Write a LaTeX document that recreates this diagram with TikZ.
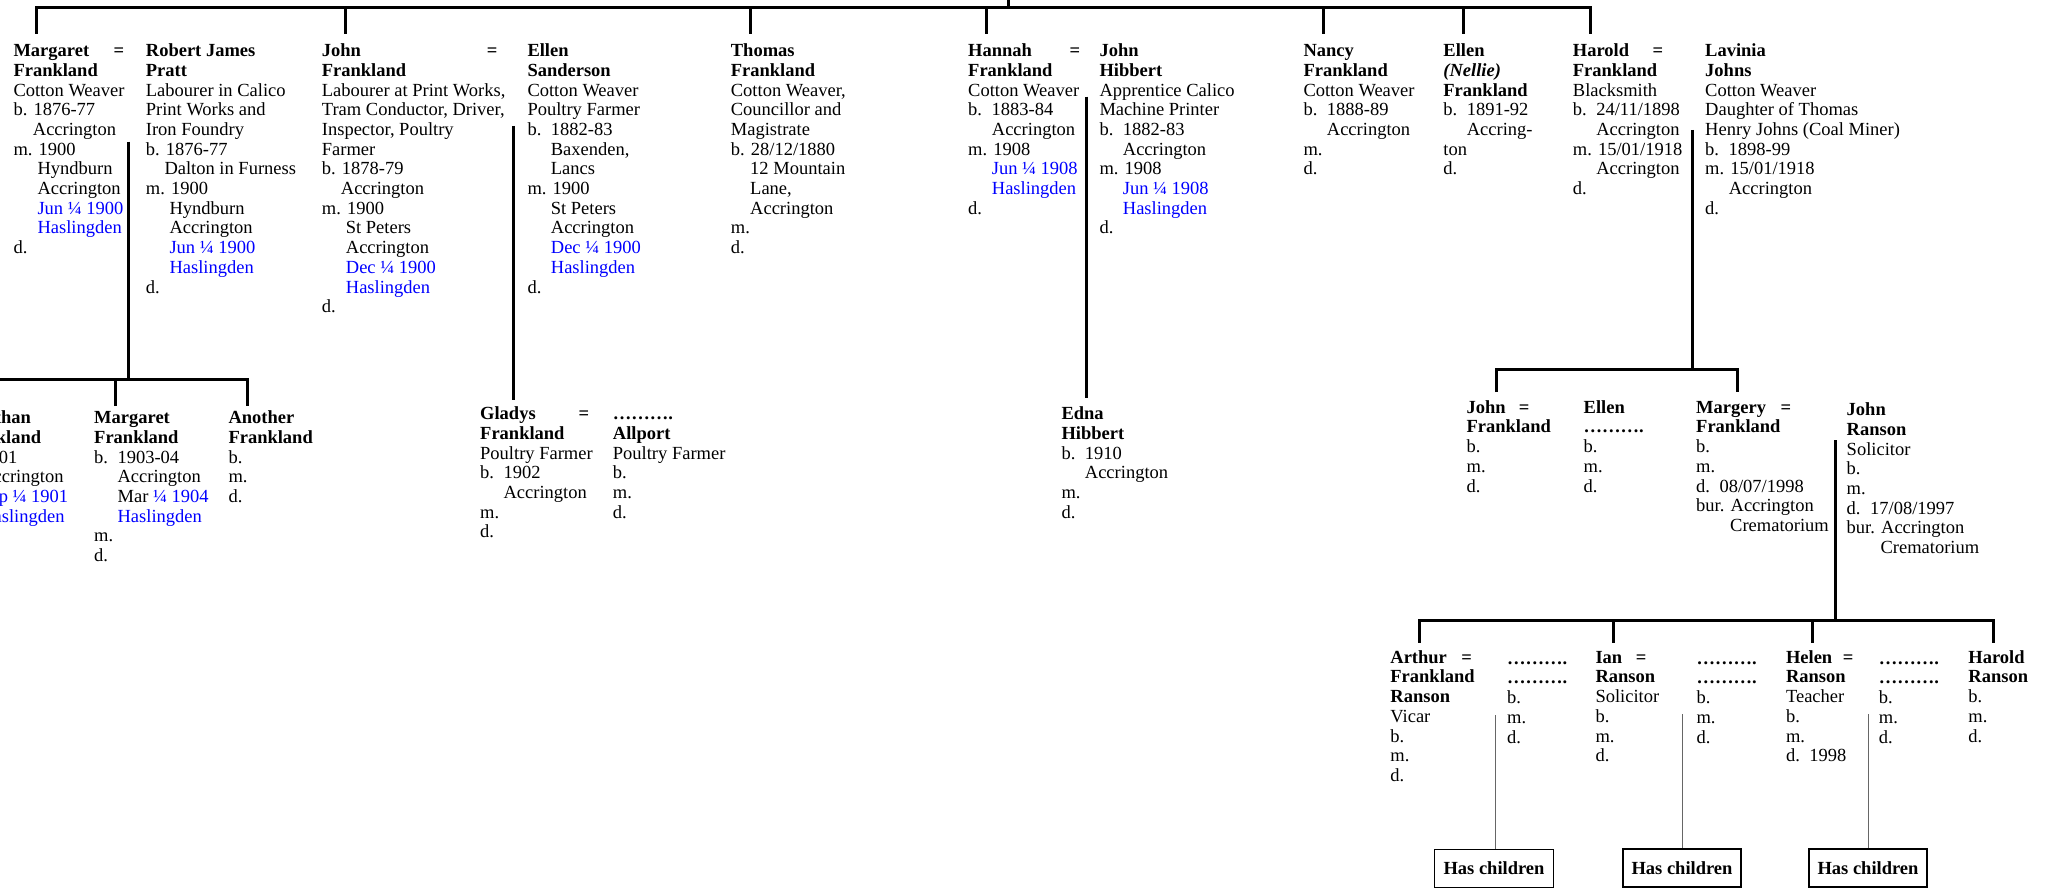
\documentclass[tikz,border=0pt]{standalone}
\usepackage{fontspec}
\setmainfont{Liberation Serif}
\definecolor{refblue}{RGB}{0,0,255}
\newcommand{\pind}[1]{\hspace*{#1pt}}
\newcommand{\pblue}[1]{\textcolor{refblue}{#1}}
\newcommand{\ptab}[1]{\makebox[23.4pt][l]{#1}}
\newcommand{\pstrut}{\rule{0pt}{13.5pt}}
\newcommand{\peq}[2]{\makebox[#1pt][l]{\textbf{#2}\hfill\textbf{=}}}
\tikzset{
  person/.style={anchor=north west, inner sep=0pt, align=left, font=\fontsize{18.5}{19.7}\selectfont},
  tree/.style={line width=3pt, black},
  thinline/.style={line width=1pt, black!60},
  kidbox/.style={draw, line width=1.5pt, minimum width=119pt, minimum height=38pt, inner sep=0pt, font=\fontsize{18.5}{19.7}\selectfont\bfseries}
}
\begin{document}
\begin{tikzpicture}[x=1pt,y=-1pt]
\useasboundingbox (0,0) rectangle (2045,890);
% ---------- generation 1 ----------
\node[person] (margaret) at (13.3,43) {\pstrut\peq{110.7}{Margaret}\\ \textbf{Frankland}\\ Cotton Weaver\\ b. 1876-77\\ \pind{19.4}Accrington\\ m. 1900\\ \pind{24}Hyndburn\\ \pind{24}Accrington\\ \pind{24}\pblue{Jun ¼ 1900}\\ \pind{24}\pblue{Haslingden}\\ d.};
\node[person] (robert) at (145.7,43) {\pstrut\textbf{Robert James}\\ \textbf{Pratt}\\ Labourer in Calico\\ Print Works and\\ Iron Foundry\\ b. 1876-77\\ \pind{18.6}Dalton in Furness\\ m. 1900\\ \pind{23.6}Hyndburn\\ \pind{23.6}Accrington\\ \pind{23.6}\pblue{Jun ¼ 1900}\\ \pind{23.6}\pblue{Haslingden}\\ d.};
\node[person] (john) at (321.7,43) {\pstrut\peq{175.6}{John}\\ \textbf{Frankland}\\ Labourer at Print Works,\\ Tram Conductor, Driver,\\ Inspector, Poultry\\ Farmer\\ b. 1878-79\\ \pind{19}Accrington\\ m. 1900\\ \pind{24}St Peters\\ \pind{24}Accrington\\ \pind{24}\pblue{Dec ¼ 1900}\\ \pind{24}\pblue{Haslingden}\\ d.};
\node[person] (ellens) at (527.3,43) {\pstrut\textbf{Ellen}\\ \textbf{Sanderson}\\ Cotton Weaver\\ Poultry Farmer\\ \ptab{b.}1882-83\\ \pind{23.4}Baxenden,\\ \pind{23.4}Lancs\\ m. 1900\\ \pind{23.4}St Peters\\ \pind{23.4}Accrington\\ \pind{23.4}\pblue{Dec ¼ 1900}\\ \pind{23.4}\pblue{Haslingden}\\ d.};
\node[person] (thomas) at (730.7,43) {\pstrut\textbf{Thomas}\\ \textbf{Frankland}\\ Cotton Weaver,\\ Councillor and\\ Magistrate\\ b. 28/12/1880\\ \pind{19.3}12 Mountain\\ \pind{19.3}Lane,\\ \pind{19.3}Accrington\\ m.\\ d.};
\node[person] (hannah) at (968,43) {\pstrut\peq{112}{Hannah}\\ \textbf{Frankland}\\ Cotton Weaver\\ \ptab{b.}1883-84\\ \pind{23.7}Accrington\\ m. 1908\\ \pind{23.7}\pblue{Jun ¼ 1908}\\ \pind{23.7}\pblue{Haslingden}\\ d.};
\node[person] (hibbert) at (1099.3,43) {\pstrut\textbf{John}\\ \textbf{Hibbert}\\ Apprentice Calico\\ Machine Printer\\ \ptab{b.}1882-83\\ \pind{23.4}Accrington\\ m. 1908\\ \pind{23.4}\pblue{Jun ¼ 1908}\\ \pind{23.4}\pblue{Haslingden}\\ d.};
\node[person] (nancy) at (1303.3,43) {\pstrut\textbf{Nancy}\\ \textbf{Frankland}\\ Cotton Weaver\\ \ptab{b.}1888-89\\ \pind{23.4}Accrington\\ m.\\ d.};
\node[person] (nellie) at (1443.2,43) {\pstrut\textbf{Ellen}\\ \textbf{\textit{(Nellie)}}\\ \textbf{Frankland}\\ \ptab{b.}1891-92\\ \pind{23.4}Accring-\\ ton\\ d.};
\node[person] (harold) at (1572.7,43) {\pstrut\peq{90.3}{Harold}\\ \textbf{Frankland}\\ Blacksmith\\ \ptab{b.}24/11/1898\\ \pind{23.4}Accrington\\ m. 15/01/1918\\ \pind{23.4}Accrington\\ d.};
\node[person] (lavinia) at (1705,43) {\pstrut\textbf{Lavinia}\\ \textbf{Johns}\\ Cotton Weaver\\ Daughter of Thomas\\ Henry Johns (Coal Miner)\\ \ptab{b.}1898-99\\ m. 15/01/1918\\ \pind{23.6}Accrington\\ d.};
% ---------- generation 2 ----------
\node[person] (jonathan) at (-43.3,410) {\pstrut\textbf{Jonathan}\\ \textbf{Frankland}\\ \ptab{b.}1901\\ \pind{23.4}Accrington\\ \pind{23.4}\pblue{Sep ¼ 1901}\\ \pind{23.4}\pblue{Haslingden}\\ m.\\ d.};
\node[person] (margaretjr) at (94,410) {\pstrut\textbf{Margaret}\\ \textbf{Frankland}\\ \ptab{b.}1903-04\\ \pind{23.4}Accrington\\ \pind{23.4}Mar \pblue{¼ 1904}\\ \pind{23.4}\pblue{Haslingden}\\ m.\\ d.};
\node[person] (another) at (228.3,410) {\pstrut\textbf{Another}\\ \textbf{Frankland}\\ b.\\ m.\\ d.};
\node[person] (gladys) at (480,406) {\pstrut\peq{109}{Gladys}\\ \textbf{Frankland}\\ Poultry Farmer\\ \ptab{b.}1902\\ \pind{23.4}Accrington\\ m.\\ d.};
\node[person] (allport) at (612.7,406) {\pstrut\textbf{……….}\\ \textbf{Allport}\\ Poultry Farmer\\ b.\\ m.\\ d.};
\node[person] (edna) at (1061.3,406) {\pstrut\textbf{Edna}\\ \textbf{Hibbert}\\ \ptab{b.}1910\\ \pind{23.4}Accrington\\ m.\\ d.};
\node[person] (johnjr) at (1466.4,399.5) {\pstrut\peq{62.8}{John}\\ \textbf{Frankland}\\ b.\\ m.\\ d.};
\node[person] (ellenjr) at (1583.5,399.5) {\pstrut\textbf{Ellen}\\ \textbf{……….}\\ b.\\ m.\\ d.};
\node[person] (margery) at (1696,399.5) {\pstrut\peq{95}{Margery}\\ \textbf{Frankland}\\ b.\\ m.\\ \ptab{d.}08/07/1998\\ bur. Accrington\\ \pind{34}Crematorium};
\node[person] (ranson) at (1846.5,402) {\pstrut\textbf{John}\\ \textbf{Ranson}\\ Solicitor\\ b.\\ m.\\ \ptab{d.}17/08/1997\\ bur. Accrington\\ \pind{33.9}Crematorium};
% ---------- generation 3 ----------
\node[person] (arthur) at (1390.2,649.5) {\pstrut\peq{81.4}{Arthur}\\ \textbf{Frankland}\\ \textbf{Ranson}\\ Vicar\\ b.\\ m.\\ d.};
\node[person] (sp1) at (1507,650.5) {\pstrut\textbf{……….}\\ \textbf{……….}\\ b.\\ m.\\ d.};
\node[person] (ian) at (1595.3,649.5) {\pstrut\peq{51}{Ian}\\ \textbf{Ranson}\\ Solicitor\\ b.\\ m.\\ d.};
\node[person] (sp2) at (1696.3,650.5) {\pstrut\textbf{……….}\\ \textbf{……….}\\ b.\\ m.\\ d.};
\node[person] (helen) at (1785.8,649.5) {\pstrut\peq{67.4}{Helen}\\ \textbf{Ranson}\\ Teacher\\ b.\\ m.\\ \ptab{d.}1998};
\node[person] (sp3) at (1878.7,650.5) {\pstrut\textbf{……….}\\ \textbf{……….}\\ b.\\ m.\\ d.};
\node[person] (haroldr) at (1968.2,649.5) {\pstrut\textbf{Harold}\\ \textbf{Ranson}\\ b.\\ m.\\ d.};
% ---------- Has children boxes ----------
\node[kidbox] (hc1) at (1494,868.3) {Has children};
\node[kidbox, minimum width=118pt] (hc2) at (1682,868) {Has children};
\node[kidbox, minimum width=118pt] (hc3) at (1868,868) {Has children};
% ---------- coordinates ----------
\coordinate (T) at (0,7.5);
\coordinate (pUp) at (1008.3,-3);
\coordinate (dMargaret) at (36,34);
\coordinate (dJohn) at (345,34);
\coordinate (dThomas) at (750.7,34);
\coordinate (dHannah) at (986.7,34);
\coordinate (dNancy) at (1323.3,34);
\coordinate (dNellie) at (1463.3,34);
\coordinate (dHarold) at (1590.5,34);
\coordinate (mr1) at (128.3,141.7);
\coordinate (mr2) at (128.3,380);
\coordinate (cA) at (-20,406);
\coordinate (cB) at (115,406);
\coordinate (cC) at (247.7,406);
\coordinate (je1) at (513.3,126);
\coordinate (je2) at (513.3,400);
\coordinate (hh1) at (1086.7,96.7);
\coordinate (hh2) at (1086.7,398);
\coordinate (hl1) at (1692.9,130);
\coordinate (hl2) at (1692.9,370);
\coordinate (cJ) at (1496.5,392);
\coordinate (cM) at (1737.5,392);
\coordinate (mj1) at (1835.5,440);
\coordinate (mj2) at (1835.5,620);
\coordinate (g1) at (1419.6,642.7);
\coordinate (g2) at (1613.6,642.7);
\coordinate (g3) at (1812.7,642.7);
\coordinate (g4) at (1993.8,642.7);
\coordinate (l1) at (1495,715);
\coordinate (l2) at (1682.2,714.3);
\coordinate (l3) at (1868.5,714.3);
% ---------- connectors ----------
\draw[tree] (pUp) -- (pUp|-T);
\draw[tree] (dMargaret) -- (dMargaret|-T) -- (dHarold|-T) -- (dHarold);
\draw[tree] (dJohn) -- (dJohn|-T);
\draw[tree] (dThomas) -- (dThomas|-T);
\draw[tree] (dHannah) -- (dHannah|-T);
\draw[tree] (dNancy) -- (dNancy|-T);
\draw[tree] (dNellie) -- (dNellie|-T);
\draw[tree] (mr1) -- (mr2);
\draw[tree] (cA) -- (cA|-mr2) -- (cC|-mr2) -- (cC);
\draw[tree] (cB) -- (cB|-mr2);
\draw[tree] (je1) -- (je2);
\draw[tree] (hh1) -- (hh2);
\draw[tree] (hl1) -- (hl2);
\draw[tree] (cJ) -- (cJ|-hl2) -- (cM|-hl2) -- (cM);
\draw[tree] (mj1) -- (mj2);
\draw[tree] (g1) -- (g1|-mj2) -- (g4|-mj2) -- (g4);
\draw[tree] (g2) -- (g2|-mj2);
\draw[tree] (g3) -- (g3|-mj2);
\draw[thinline] (l1) -- (l1|-hc1.north);
\draw[thinline] (l2) -- (l2|-hc2.north);
\draw[thinline] (l3) -- (l3|-hc3.north);
\end{tikzpicture}
\end{document}
